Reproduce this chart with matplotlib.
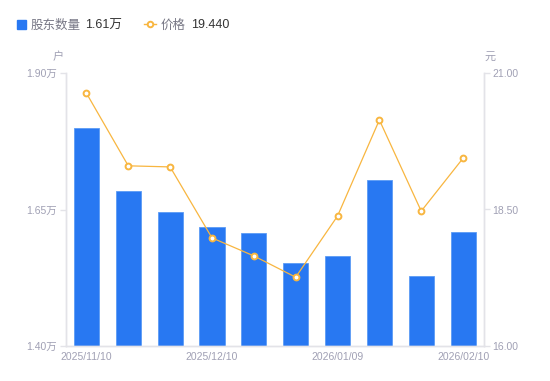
import matplotlib
matplotlib.use("Agg")
import matplotlib.pyplot as plt
from matplotlib.lines import Line2D
from matplotlib.patches import Rectangle

plt.rcParams['font.family'] = ['Liberation Sans', 'Noto Sans CJK SC', 'DejaVu Sans']

#%% --- Data ---

dates = ["2025/11/10", "2025/11/20", "2025/11/30", "2025/12/10", "2025/12/20",
         "2025/12/31", "2026/01/09", "2026/01/20", "2026/01/30", "2026/02/10"]
holders = [1.799, 1.684, 1.645, 1.618, 1.607, 1.552, 1.565, 1.704, 1.528, 1.609]
prices = [20.63, 19.30, 19.28, 17.98, 17.65, 17.26, 18.38, 20.14, 18.47, 19.44]

left_ticks = [1.40, 1.65, 1.90]
right_ticks = [16.00, 18.50, 21.00]

#%% --- Style ---

bar_color = "#2878F2"
line_color = "#F8B640"
axis_color = "#E3E3E8"
tick_text = "#A0A0B4"

W, H = 550, 381
fig = plt.figure(figsize=(W / 100, H / 100), dpi=100)

ax = fig.add_axes([65.5 / W, (H - 346) / H, (484 - 65.5) / W, (346 - 73) / H])
ax2 = ax.twinx()

x = list(range(len(dates)))

ax.bar(x, holders, width=0.6, color=bar_color, edgecolor="#5C9BF5",
       linewidth=0.6, zorder=2)
ax.set_ylim(left_ticks[0], left_ticks[-1])
ax.set_xlim(-0.5, len(dates) - 0.5)

ax2.plot(x, prices, color=line_color, linewidth=0.9, marker="o",
         markersize=4.2, markerfacecolor="white", markeredgecolor=line_color,
         markeredgewidth=1.4, zorder=3)
ax2.set_ylim(right_ticks[0], right_ticks[-1])

# --- Axes styling ---
for a in (ax, ax2):
    a.spines["top"].set_visible(False)
    for side in ("left", "right", "bottom"):
        a.spines[side].set_color(axis_color)
        a.spines[side].set_linewidth(1.0)

ax.set_yticks(left_ticks)
ax.set_yticklabels(["{:.2f}万".format(v) for v in left_ticks])
ax2.set_yticks(right_ticks)
ax2.set_yticklabels(["{:.2f}".format(v) for v in right_ticks])

ax.tick_params(axis="y", colors=axis_color, labelcolor=tick_text,
               labelsize=7.5, length=4, width=1, pad=2)
ax2.tick_params(axis="y", colors=axis_color, labelcolor=tick_text,
                labelsize=7.5, length=4, width=1, pad=2)

shown = [0, 3, 6, 9]
ax.set_xticks(shown)
ax.set_xticklabels([dates[i] for i in shown])
ax.tick_params(axis="x", length=0, labelcolor=tick_text, labelsize=7.5, pad=4)

# --- Unit labels ---
fig.text(58 / W, 1 - 57 / H, "户", color=tick_text, fontsize=8,
         ha="center", va="center")
fig.text(490 / W, 1 - 57 / H, "元", color=tick_text, fontsize=8,
         ha="center", va="center")

# --- Legend ---
leg_y = 1 - 24 / H
txt_y = 1 - 25.5 / H
fig.patches.append(Rectangle((17 / W, 1 - 28.5 / H), 9 / W, 9 / H,
                             transform=fig.transFigure, color=bar_color,
                             figure=fig))
fig.text(31 / W, txt_y, "股东数量", color="#777785", fontsize=9,
         va="center")
fig.text(85 / W, txt_y, "1.61万", color="#333333", fontsize=9,
         va="center")

fig.lines.append(Line2D([144 / W, 156 / W], [leg_y, leg_y],
                        transform=fig.transFigure, color=line_color,
                        linewidth=1.0, figure=fig))
fig.lines.append(Line2D([150 / W], [leg_y], transform=fig.transFigure,
                        color=line_color, marker="o", markersize=4,
                        markerfacecolor="white", markeredgewidth=1.4,
                        figure=fig))
fig.text(161 / W, txt_y, "价格", color="#777785", fontsize=9,
         va="center")
fig.text(191 / W, txt_y, "19.440", color="#333333", fontsize=9,
         va="center")

fig.savefig("out.png", dpi=100)
